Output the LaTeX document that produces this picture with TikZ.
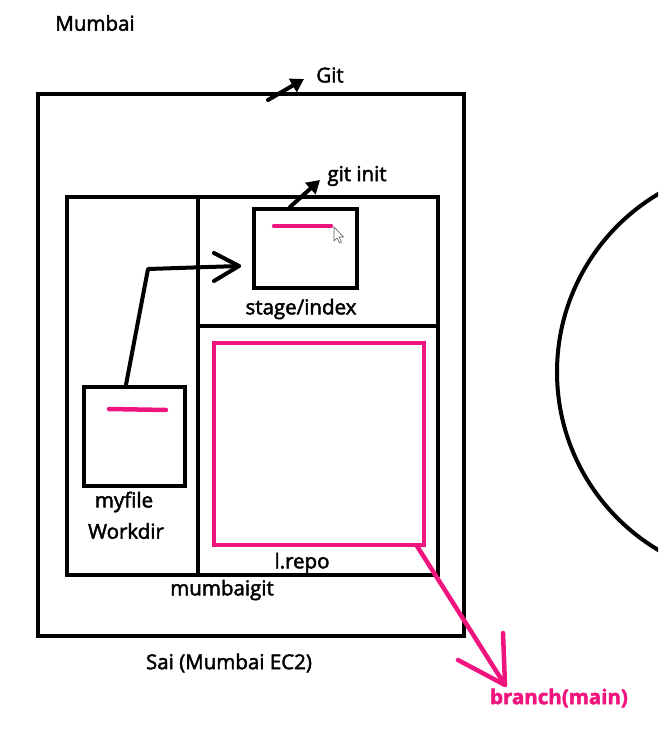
\documentclass[tikz,border=0pt]{standalone}
\usepackage{fontspec}
\setmainfont{Open Sans}[FakeBold=2.2]
\usetikzlibrary{arrows.meta}
\definecolor{hotpink}{HTML}{F0147F}
\begin{document}
\begin{tikzpicture}[x=1pt,y=-1pt,
  box/.style={draw=black,line width=4.5pt},
  pinkbox/.style={draw=hotpink,line width=4.5pt},
  pinkline/.style={draw=hotpink,line width=4.5pt,line cap=round},
  conn/.style={draw=black,line width=4pt,line cap=round,line join=round},
  lbl/.style={inner sep=0pt,font=\fontsize{20.5}{24}\selectfont},
  plbl/.style={lbl,text=hotpink,font=\fontsize{20.5}{24}\selectfont\bfseries},
  filledtip/.style={-{Triangle[length=13pt,width=15pt]}}
]
\useasboundingbox (0,0) rectangle (658,730);
\begin{scope}
\clip (0,0) rectangle (658,730);
\node[draw=black,line width=4pt,circle,minimum size=414pt,inner sep=0pt] (circ) at (764,372) {};
\end{scope}

% outer EC2
\node[box,minimum width=426pt,minimum height=542pt,inner sep=0pt] (ec2) at (251,365) {};
\node[box,minimum width=371pt,minimum height=378pt,inner sep=0pt] (mg) at (252.5,386) {};
\coordinate (vt) at (198,197);
\coordinate (vb) at (198,575);
\draw[conn,line cap=butt] (vt) -- (vb);
\coordinate (hl) at (198,326);
\coordinate (hr) at (438,326);
\draw[conn,line cap=butt] (hl) -- (hr);

% stage box
\node[box,minimum width=103pt,minimum height=79pt,inner sep=0pt] (stage) at (305.5,248.5) {};
\coordinate (sp1) at (274,226);
\coordinate (sp2) at (331,226);
\draw[pinkline] (sp1) -- (sp2);
% mouse cursor
\coordinate (cur) at (334,227);
\draw[fill=white,draw=gray!70!black,line width=0.6pt,line join=round]
  (cur) -- ++(0,14) -- ++(3,-3) -- ++(2.5,5) -- ++(2,-1) -- ++(-2.5,-5) -- ++(4.5,0) -- cycle;

% l.repo
\node[pinkbox,minimum width=210pt,minimum height=202pt,inner sep=0pt] (repo) at (319,444) {};

% myfile box
\node[box,minimum width=101pt,minimum height=99pt,inner sep=0pt] (myfile) at (134.5,436.5) {};
\coordinate (mp1) at (109,409);
\coordinate (mp2) at (166,410);
\draw[pinkline] (mp1) -- (mp2);

% labels
\node[lbl] (mumbai) at (95,23) {Mumbai};
\node[lbl] (git) at (330,75) {Git};
\node[lbl] (gitinit) at (357,176) {git init};
\node[lbl] (stagel) at (301,309) {stage/index};
\node[lbl] (repol) at (302,563) {l.repo};
\node[lbl] (myfilel) at (124,502) {myfile};
\node[lbl] (workdir) at (126,531) {Workdir};
\node[lbl] (mgl) at (222,590) {mumbaigit};
\node[lbl] (sai) at (229,663) {Sai (Mumbai EC2)};
\node[plbl] (branch) at (559,698) {branch(main)};

% arrows
\coordinate (ga1) at (268,100);
\coordinate (ga2) at (304,79);
\draw[conn,filledtip] (ga1) -- (ga2);
\coordinate (gi1) at (290,207);
\coordinate (gi2) at (320,180);
\draw[conn,filledtip] (gi1) -- (gi2);

\coordinate (ma2) at (148,269);
\coordinate (ma3) at (239,266);
\draw[conn] (myfile.north) ++(-8.5,0) coordinate (mstart) (mstart) -- (ma2) -- (ma3);
\coordinate (mh1) at (214,253);
\coordinate (mh2) at (214,281);
\draw[conn] (mh1) -- (ma3) -- (mh2);

\coordinate (pa1) at (417,546);
\coordinate (pa2) at (505,685);
\draw[pinkline] (pa1) -- (pa2);
\coordinate (ph1) at (503,633);
\coordinate (ph2) at (458,660);
\draw[pinkline,line join=round] (ph1) -- (pa2) -- (ph2);
\end{tikzpicture}
\end{document}
